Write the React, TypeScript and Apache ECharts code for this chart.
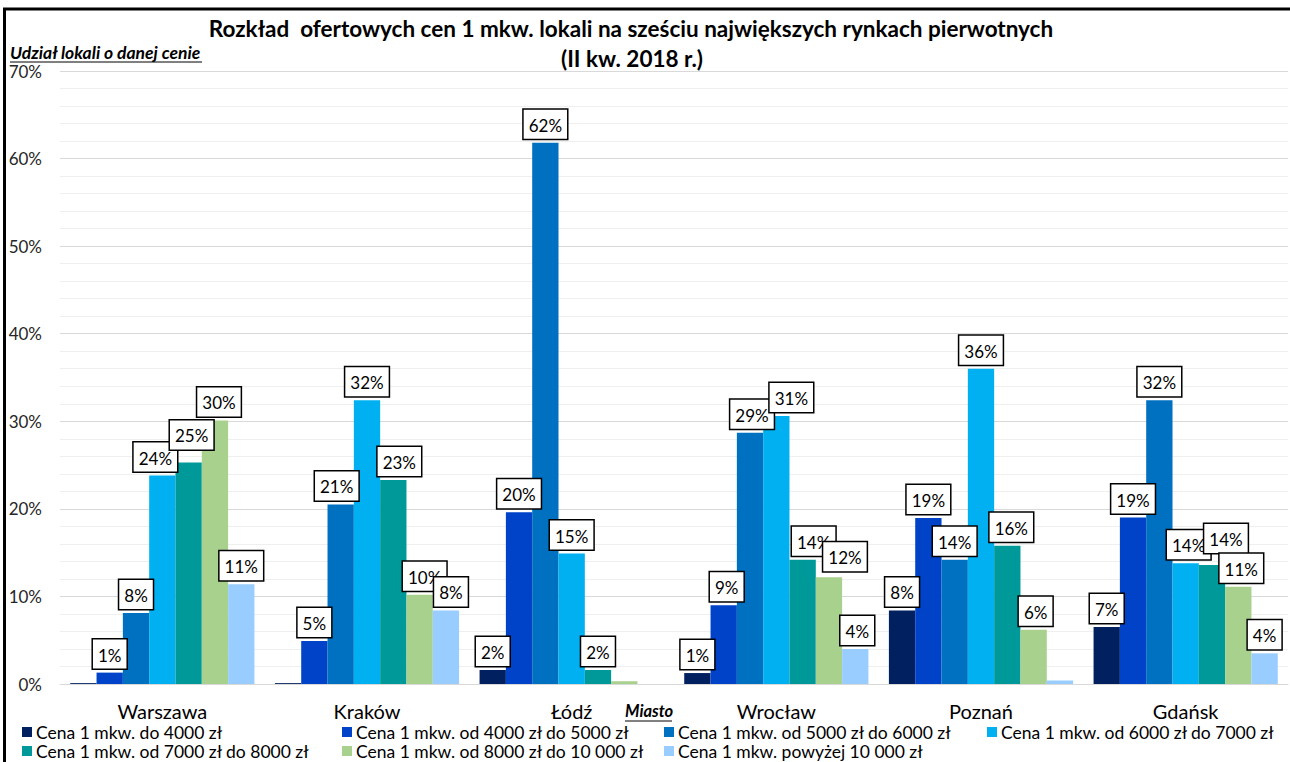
import React, { useEffect, useRef } from "react";
import * as echarts from "echarts";

const cities = ["Warszawa", "Kraków", "Łódź", "Wrocław", "Poznań", "Gdańsk"];
const seriesNames = [
  "Cena 1 mkw. do 4000 zł",
  "Cena 1 mkw. od 4000 zł do 5000 zł",
  "Cena 1 mkw. od 5000 zł do 6000 zł",
  "Cena 1 mkw. od 6000 zł do 7000 zł",
  "Cena 1 mkw. od 7000 zł do 8000 zł",
  "Cena 1 mkw. od 8000 zł do 10 000 zł",
  "Cena 1 mkw. powyżej 10 000 zł",
];
const colors = ["#002060", "#0042C8", "#0070C0", "#00B0F0", "#009999", "#A9D18E", "#99CCFF"];

const upTo4000 = [0.1, 0.1, 1.6, 1.25, 8.4, 6.5];
const from4000to5000 = [1.3, 4.9, 19.6, 9.0, 18.95, 19.0];
const from5000to6000 = [8.1, 20.5, 61.8, 28.7, 14.2, 32.4];
const from6000to7000 = [23.8, 32.4, 14.9, 30.6, 36.0, 13.8];
const from7000to8000 = [25.3, 23.3, 1.6, 14.2, 15.8, 13.6];
const from8000to10000 = [30.1, 10.2, 0.3, 12.2, 6.2, 11.1];
const above10000 = [11.4, 8.4, 0, 4.0, 0.4, 3.5];

const allSeries = [upTo4000, from4000to5000, from5000to6000, from6000to7000, from7000to8000, from8000to10000, above10000];

const yTicks = [0, 10, 20, 30, 40, 50, 60, 70];

// label nudges (series index - city index) => [dx, dy], mimicking the original's label placement
const labelNudges: Record<string, [number, number]> = {
  "3-0": [-7, 0],
  "4-0": [3, -9],
  "5-0": [4, 0],
  "2-1": [-4, 0],
  "4-1": [6, 0],
  "5-1": [5, 0],
  "6-1": [5, 0],
  "1-3": [3, 0],
  "2-3": [2, 0],
  "3-3": [15, 0],
  "4-3": [11, 0],
  "5-3": [16, -2],
  "6-3": [2, 0],
  "4-4": [4, 0],
  "5-4": [2, 0],
  "3-5": [3, 0],
  "4-5": [14, -8],
  "5-5": [3, 0],
};

const FONT = "Lato, 'Noto Sans', sans-serif";

export default function App() {
  const ref = useRef<HTMLDivElement>(null);
  useEffect(() => {
    if (!ref.current) return;
    const chart = echarts.init(ref.current, undefined, { renderer: "svg" });
    const legendCols = [
      { x: 22, items: [seriesNames[0], seriesNames[4]] },
      { x: 342, items: [seriesNames[1], seriesNames[5]] },
      { x: 664, items: [seriesNames[2], seriesNames[6]] },
      { x: 987, items: [seriesNames[3]] },
    ];
    chart.setOption({
      animation: false,
      backgroundColor: "#ffffff",
      textStyle: { fontFamily: FONT },
      grid: { left: 60, right: 2, top: 71, bottom: 78, containLabel: false },
      legend: legendCols.map((c) => ({
        data: c.items,
        orient: "vertical",
        left: c.x,
        top: 723,
        itemWidth: 10,
        itemHeight: 10,
        itemGap: 1,
        icon: "rect",
        padding: 0,
        textStyle: { fontSize: 17.5, color: "#000", fontFamily: FONT, lineHeight: 18, padding: [0, 0, 0, -1] },
      })),
      xAxis: {
        type: "category",
        data: cities,
        axisTick: { show: false },
        axisLine: { show: true, lineStyle: { color: "#d9d9d9", width: 1 } },
        axisLabel: { fontSize: 20, color: "#000", margin: 17, fontFamily: FONT },
      },
      yAxis: {
        type: "value",
        min: yTicks[0],
        max: yTicks[yTicks.length - 1],
        interval: 10,
        axisLabel: {
          formatter: (v: number) => (yTicks.includes(v) ? v + "%" : ""),
          fontSize: 17,
          color: "#262626",
          margin: 18,
          fontFamily: FONT,
        },
        axisLine: { show: false },
        axisTick: { show: false },
        splitLine: { show: true, lineStyle: { color: "#d9d9d9", width: 1 } },
        minorTick: { show: false, splitNumber: 5 },
        minorSplitLine: { show: true, lineStyle: { color: "#efefef", width: 1 } },
      },
      series: allSeries.map((vals, i) => ({
        name: seriesNames[i],
        type: "bar",
        barGap: "0%",
        barCategoryGap: "10%",
        itemStyle: { color: colors[i] },
        data: vals.map((v, j) => ({
          value: v,
          label: {
            show: v >= 0.5,
            position: "top",
            distance: 4,
            offset: labelNudges[`${i}-${j}`] || [0, 0],
            formatter: (p: any) => Math.round(p.value) + "%",
            fontSize: 17,
            lineHeight: 17,
            color: "#000",
            fontFamily: FONT,
            backgroundColor: "#fff",
            borderColor: "#000",
            borderWidth: 1.5,
            padding: [7, 5, 5, 5],
          },
        })),
      })),
      graphic: [
        { type: "line", shape: { x1: 3, y1: 9, x2: 1290, y2: 9 }, style: { stroke: "#000", lineWidth: 3 } },
        { type: "line", shape: { x1: 4.5, y1: 8, x2: 4.5, y2: 762 }, style: { stroke: "#000", lineWidth: 3 } },
        {
          type: "text",
          x: 631,
          y: 28,
          style: {
            text: "Rozkład  ofertowych cen 1 mkw. lokali na sześciu największych rynkach pierwotnych",
            font: "bold 22.5px " + FONT,
            fill: "#000",
            textAlign: "center",
            textVerticalAlign: "middle",
          },
        },
        {
          type: "text",
          x: 632,
          y: 58,
          style: {
            text: "(II kw. 2018 r.)",
            font: "bold 22.5px " + FONT,
            fill: "#000",
            textAlign: "center",
            textVerticalAlign: "middle",
          },
        },
        {
          type: "text",
          x: 10,
          y: 52,
          style: {
            text: "Udział lokali o danej cenie",
            font: "italic bold 17.5px " + FONT,
            fill: "#000",
            textAlign: "left",
            textVerticalAlign: "middle",
          },
        },
        { type: "line", shape: { x1: 10, y1: 62, x2: 202, y2: 62 }, style: { stroke: "#000", lineWidth: 1 } },
        {
          type: "text",
          x: 625,
          y: 711,
          style: {
            text: "Miasto",
            font: "italic bold 16.5px " + FONT,
            fill: "#000",
            textAlign: "left",
            textVerticalAlign: "middle",
          },
        },
        { type: "line", shape: { x1: 625, y1: 721, x2: 672, y2: 721 }, style: { stroke: "#000", lineWidth: 1 } },
      ],
    });
    return () => chart.dispose();
  }, []);
  return (
    <div
      ref={ref}
      style={{ position: "fixed", left: 0, top: 0, width: 1290, height: 762, background: "#fff" }}
    />
  );
}
